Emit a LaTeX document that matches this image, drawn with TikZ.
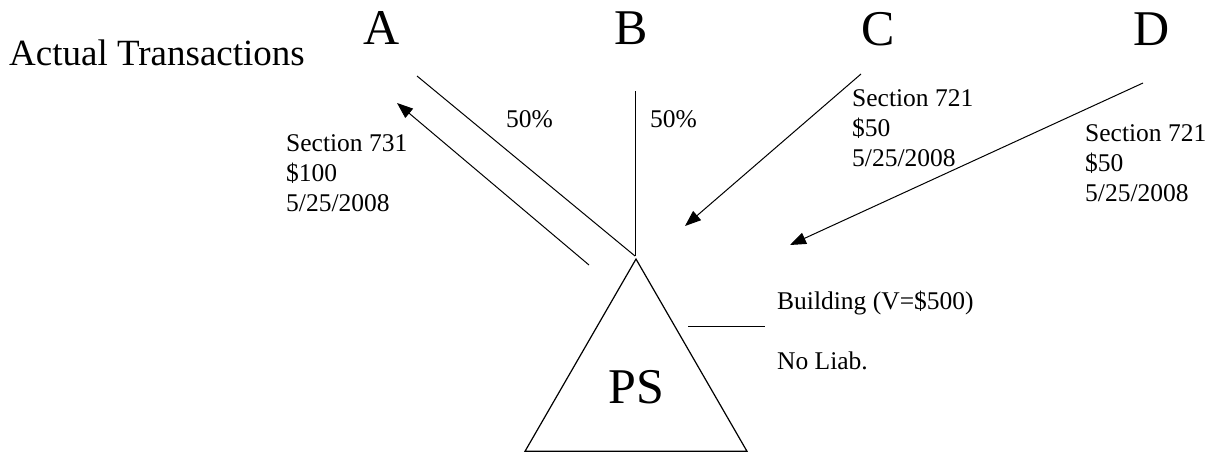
\documentclass[tikz,border=0pt]{standalone}
\usepackage{fontspec}
\setmainfont{Liberation Serif}
\usetikzlibrary{arrows.meta,shapes.geometric}
\begin{document}
\begin{tikzpicture}[x=1pt,y=-1pt,
  link/.style={line width=1pt},
  flow/.style={line width=1pt,-{Triangle[length=16pt,width=12pt]}},
  party/.style={font=\fontsize{50}{50}\selectfont,anchor=base,inner sep=0pt},
  heading/.style={font=\fontsize{37}{40}\selectfont,anchor=base west,inner sep=0pt},
  pct/.style={font=\fontsize{25.5}{30}\selectfont,anchor=base west,inner sep=0pt},
  note/.style={font=\fontsize{25.5}{30}\selectfont,anchor=north west,inner sep=0pt,align=left},
  entity/.style={draw,line width=1.2pt,regular polygon,regular polygon sides=3,
    minimum size=256.3pt,inner sep=0pt,font=\fontsize{50}{50}\selectfont}]
  \useasboundingbox (0,0) rectangle (1218,453);

  % title and partners
  \node[heading] (title) at (9,65) {Actual Transactions};
  \node[party] (A) at (382,44) {A};
  \node[party] (B) at (631,44) {B};
  \node[party] (C) at (878,45) {C};
  \node[party] (D) at (1152,45) {D};

  % partnership
  \node[entity] (ps) at (636,387.2) {PS};

  % ownership lines
  \coordinate (aTop) at (417,76);
  \coordinate (bTop) at (635,91);
  \coordinate (own) at (635,256);
  \draw[link] (aTop) -- (own);
  \draw[link] (bTop) -- (own);
  \node[pct] (pA) at (506,127) {50\%};
  \node[pct] (pB) at (650,127) {50\%};

  % distributions and contributions
  \coordinate (dStart) at (589,265);
  \coordinate (dEnd) at (397,103);
  \draw[flow] (dStart) -- (dEnd);
  \node[note] (n731) at (286,134.6) {Section 731\\\$100\\5/25/2008};

  \coordinate (cStart) at (861,74);
  \coordinate (cEnd) at (685,226);
  \draw[flow] (cStart) -- (cEnd);
  \node[note] (n721c) at (852,89.6) {Section 721\\\$50\\5/25/2008};

  \coordinate (eStart) at (1143,83);
  \coordinate (eEnd) at (790,245);
  \draw[flow] (eStart) -- (eEnd);
  \node[note] (n721d) at (1085,124.6) {Section 721\\\$50\\5/25/2008};

  % asset held by the partnership
  \coordinate (assetL) at (688,326);
  \coordinate (assetR) at (765,326);
  \draw[link] (assetL) -- (assetR);
  \node[pct] (bldg) at (777,309) {Building (V=\$500)};
  \node[pct] (liab) at (777,369) {No Liab.};
\end{tikzpicture}
\end{document}
